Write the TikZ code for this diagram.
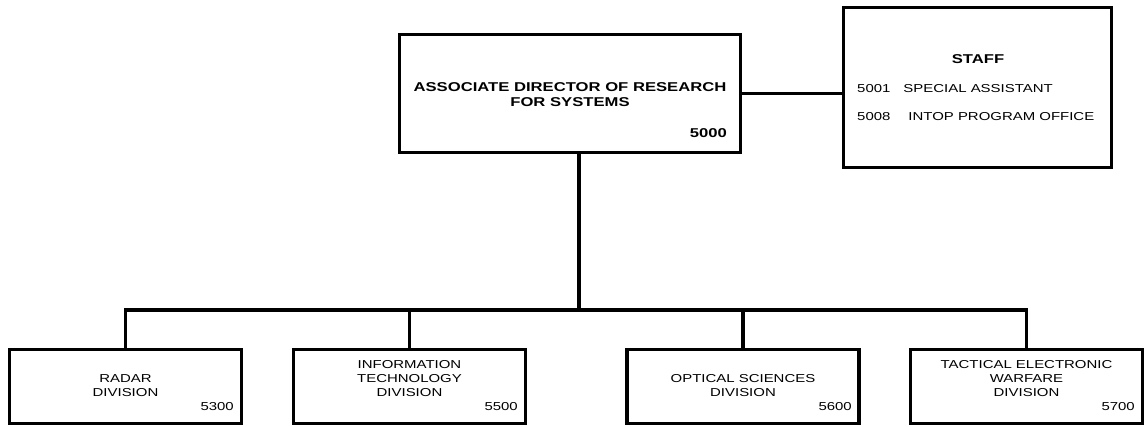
\documentclass[tikz,border=0pt]{standalone}
\usepackage{fontspec}
\setmainfont{Liberation Sans}[FakeStretch=1.3]
\usepackage{tikz}
\usepackage{xcolor}

\begin{document}
\begin{tikzpicture}[x=1pt,y=1pt]
\tikzstyle{office}=[rectangle,draw,line width=3.2pt,inner sep=0pt]
\tikzstyle{division}=[office,minimum width=232pt,minimum height=74pt]
\tikzstyle{officetitle}=[inner sep=0pt,align=center,font=\fontsize{12.8}{15}\selectfont\bfseries]
\tikzstyle{divname}=[inner sep=0pt,align=center,anchor=south,font=\fontsize{11.5}{14}\selectfont]
\tikzstyle{divcode}=[inner sep=0pt,anchor=base east,font=\fontsize{11.5}{14}\selectfont]
\tikzstyle{link}=[line width=3.2pt]
\tikzstyle{drop}=[line width=3.8pt,line cap=rect]

\useasboundingbox (0,0) rectangle (1147,427);

\node[office,minimum width=341pt,minimum height=118pt](Director) at (570,333.5){};
\node[officetitle](DirectorName) at (570,332.5){ASSOCIATE DIRECTOR OF RESEARCH\\FOR SYSTEMS};
\node[officetitle,anchor=base east](DirectorCode) at (727,289.4){5000};

\node[office,minimum width=268pt,minimum height=160pt](Staff) at (977.5,339.5){};
\node[officetitle](StaffName) at (978,368){STAFF};
\node[inner sep=0pt,align=left,anchor=west,font=\fontsize{11.5}{28}\selectfont](StaffList) at (857,324)
  {5001\hspace{13pt}SPECIAL ASSISTANT\\5008\hspace{18pt}INTOP PROGRAM OFFICE};

\node[division](Radar) at (125.5,40.5){};
\node[divname](RadarName) at (125.5,30){RADAR\\DIVISION};
\node[divcode](RadarCode) at (234,16){5300};

\node[division](Information) at (409.5,40.5){};
\node[divname](InformationName) at (409.5,30){INFORMATION\\TECHNOLOGY\\DIVISION};
\node[divcode](InformationCode) at (518,16){5500};

\node[division](Optical) at (743,40.5){};
\node[divname](OpticalName) at (743,30){OPTICAL SCIENCES\\DIVISION};
\node[divcode](OpticalCode) at (852,16){5600};

\node[division](Tactical) at (1026.5,40.5){};
\node[divname](TacticalName) at (1026.5,30){TACTICAL ELECTRONIC\\WARFARE\\DIVISION};
\node[divcode](TacticalCode) at (1135,16){5700};

\coordinate (Bus) at (579,117);

\draw[link] (Director.east) -- (Director.east -| Staff.west);
\draw[drop] (Bus |- Director.south) -- (Bus);
\draw[link] (Radar.north |- Bus) -- (Tactical.north |- Bus);
\draw[drop] (Radar.north |- Bus) -- (Radar.north);
\draw[drop] (Information.north |- Bus) -- (Information.north);
\draw[drop] (Optical.north |- Bus) -- (Optical.north);
\draw[drop] (Tactical.north |- Bus) -- (Tactical.north);

\end{tikzpicture}
\end{document}
